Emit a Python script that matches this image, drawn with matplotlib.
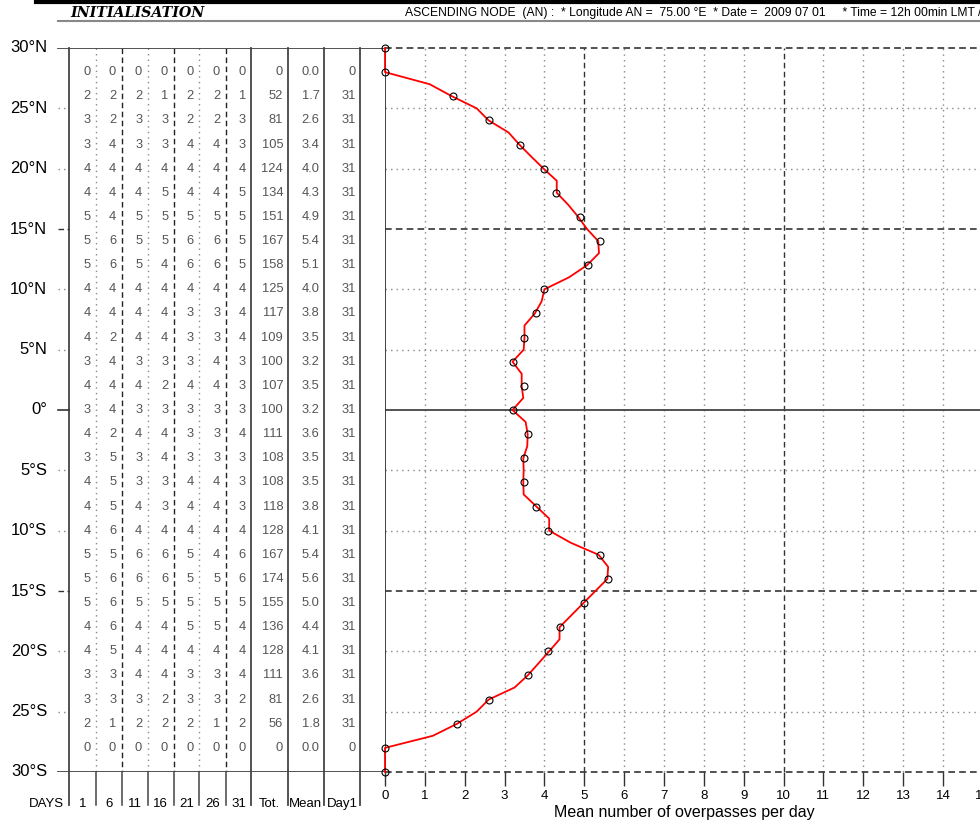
import matplotlib
matplotlib.use("Agg")
import matplotlib.pyplot as plt
from matplotlib.lines import Line2D

plt.rcParams['font.family'] = ['Liberation Sans', 'DejaVu Sans']

# table rows: latitudes 28N .. 28S, step 2
row_lats = list(range(28, -29, -2))
d01 = [0, 2, 3, 3, 4, 4, 5, 5, 5, 4, 4, 4, 3, 4, 3, 4, 3, 4, 4, 4, 5, 5, 5, 4, 4, 3, 3, 2, 0]
d06 = [0, 2, 2, 4, 4, 4, 4, 6, 6, 4, 4, 2, 4, 4, 4, 2, 5, 5, 5, 6, 5, 6, 6, 6, 5, 3, 3, 1, 0]
d11 = [0, 2, 3, 3, 4, 4, 5, 5, 5, 4, 4, 4, 3, 4, 3, 4, 3, 3, 4, 4, 6, 6, 5, 4, 4, 4, 3, 2, 0]
d16 = [0, 1, 3, 3, 4, 5, 5, 5, 4, 4, 4, 4, 3, 2, 3, 4, 4, 3, 3, 4, 6, 6, 5, 4, 4, 4, 2, 2, 0]
d21 = [0, 2, 2, 4, 4, 4, 5, 6, 6, 4, 3, 3, 3, 4, 3, 3, 3, 4, 4, 4, 5, 5, 5, 5, 4, 3, 3, 2, 0]
d26 = [0, 2, 2, 4, 4, 4, 5, 6, 6, 4, 3, 3, 4, 4, 3, 3, 3, 4, 4, 4, 4, 5, 5, 5, 4, 3, 3, 1, 0]
d31 = [0, 1, 3, 3, 4, 5, 5, 5, 5, 4, 4, 4, 3, 3, 3, 4, 3, 3, 3, 4, 6, 6, 5, 4, 4, 4, 2, 2, 0]
total = [0, 52, 81, 105, 124, 134, 151, 167, 158, 125, 117, 109, 100, 107, 100,
         111, 108, 108, 118, 128, 167, 174, 155, 136, 128, 111, 81, 56, 0]
mean = [0.0, 1.7, 2.6, 3.4, 4.0, 4.3, 4.9, 5.4, 5.1, 4.0, 3.8, 3.5, 3.2, 3.5, 3.2,
        3.6, 3.5, 3.5, 3.8, 4.1, 5.4, 5.6, 5.0, 4.4, 4.1, 3.6, 2.6, 1.8, 0.0]
day1 = [0] + [31] * 27 + [0]
col_names = ["1", "6", "11", "16", "21", "26", "31", "Tot.", "Mean", "Day1"]

# 1-degree profile, 30N .. 30S
prof_lats = list(range(30, -31, -1))
prof_vals = [0, 0, 0, 1.12, 1.68, 2.3, 2.6, 3.1, 3.37, 3.67, 3.98, 4.31, 4.31, 4.6, 4.85,
             5.07, 5.35, 5.37, 5.07, 4.62, 4.0, 3.93, 3.76, 3.5, 3.5, 3.48, 3.2, 3.43, 3.43,
             3.47, 3.2, 3.53, 3.58, 3.57, 3.47, 3.48, 3.47, 3.48, 3.8, 4.12, 4.12, 4.66,
             5.36, 5.6, 5.58, 5.28, 4.98, 4.68, 4.38, 4.38, 4.12, 3.85, 3.58, 3.25, 2.6,
             2.3, 1.81, 1.2, 0, 0, 0]

lat_ticks = [30, 25, 20, 15, 10, 5, 0, -5, -10, -15, -20, -25, -30]
lat_labels = ["30°N", "25°N", "20°N", "15°N", "10°N", "5°N", "0°",
              "5°S", "10°S", "15°S", "20°S", "25°S", "30°S"]

W, H = 980, 823
fig = plt.figure(figsize=(9.8, 8.23), dpi=100)
y_bot = (H - 772) / H
y_h = 724 / H
px_deg = 724 / 60.0

dot = (0, (1, 3))
dash = (0, (4, 2.5))

# ---- header
fig.add_artist(Line2D([36 / W, 1], [1 - 1.5 / H] * 2, color='black', lw=3))
fig.add_artist(Line2D([58 / W, 1], [1 - 21 / H] * 2, color='#888888', lw=1.5))
fig.text(70 / W, 1 - 13 / H, "INITIALISATION", family='DejaVu Serif', weight='bold',
         style='italic', fontsize=10.3, va='center', ha='left')
fig.text(405 / W, 1 - 13 / H,
         "ASCENDING NODE  (AN) :  * Longitude AN =  75.00 °E  * Date =  2009 07 01"
         "     * Time = 12h 00min LMT / AN",
         fontsize=8.7, va='center', ha='left')

# ---- table (x in figure pixels)
tab = fig.add_axes([0, y_bot, 385 / W, y_h])
tab.set_xlim(0, 385)
tab.set_ylim(-30, 30)
tab.axis('off')

edges = [69.3, 96, 121.7, 147.7, 173.7, 199.3, 225.7, 251.3, 287.7, 324, 360]
styles = ['-', dot, dash, dot, dash, dot, dash, '-', '-', '-', '-']
y_low = -30 - 33 / px_deg
for x, ls in zip(edges, styles):
    if ls == '-':
        tab.plot([x, x], [30, y_low], color='#444444', lw=1.3, clip_on=False)
    else:
        c = '#222222' if ls == dash else '#888888'
        tab.plot([x, x], [30, -30], color=c, lw=1, ls=ls)
        tab.plot([x, x], [-30, y_low], color='#444444', lw=1.1, clip_on=False)

tab.plot([58, 385], [30, 30], color='#444444', lw=1.3)
tab.plot([58, 385], [-30, -30], color='#444444', lw=1.3)

for lat, lab in zip(lat_ticks, lat_labels):
    tab.text(47, lat, lab, ha='right', va='center', fontsize=12)
    if lat in (15, -15):
        tab.plot([58, 69], [lat, lat], color='#333333', lw=1, ls=dash)
    elif lat == 0:
        tab.plot([58, 69], [lat, lat], color='#333333', lw=1.2)
    elif lat not in (30, -30):
        tab.plot([58, 69], [lat, lat], color='#888888', lw=1, ls=dot)

columns = [d01, d06, d11, d16, d21, d26, d31, total, mean, day1]
for j, col in enumerate(columns):
    xr = edges[j + 1] - (5.5 if j < 7 else 4.5)
    for lat, v in zip(row_lats, col):
        s = "%.1f" % v if j == 8 else str(v)
        tab.text(xr, lat, s, ha='right', va='center', fontsize=9.3, color='#555555')

y_lab = -30 - 32 / px_deg
tab.text(64, y_lab, "DAYS", ha='right', va='center', fontsize=9.5)
for j, name in enumerate(col_names):
    tab.text((edges[j] + edges[j + 1]) / 2, y_lab, name, ha='center', va='center',
             fontsize=9.5)

# ---- graph
ax = fig.add_axes([385 / W, y_bot, 15 * 39.85 / W, y_h])
ax.set_xlim(0, 15)
ax.set_ylim(-30, 30)
for s in ax.spines.values():
    s.set_visible(False)

for x in range(1, 16):
    if x % 5 == 0:
        ax.axvline(x, color='#333333', lw=1, ls=dash)
    else:
        ax.axvline(x, color='#888888', lw=1, ls=dot)
for lat in lat_ticks:
    if lat == 0:
        ax.axhline(lat, color='#444444', lw=1.3)
    elif lat % 15 == 0:
        ax.axhline(lat, color='#333333', lw=1.2, ls=dash, clip_on=False)
    else:
        ax.axhline(lat, color='#888888', lw=1, ls=dot)
ax.axvline(0, color='#333333', lw=1.3)

ax.plot(prof_vals, prof_lats, color='red', lw=1.3, zorder=4, clip_on=False)
ax.plot([0] + mean + [0], [30] + row_lats + [-30], ls='none', marker='o', ms=5,
        mfc='none', mec='black', mew=0.8, zorder=5, clip_on=False)

ax.set_xticks(range(16))
ax.set_yticks([])
ax.tick_params(axis='x', direction='out', length=10, width=1, color='#333333',
               labelsize=9.5, pad=3)
ax.text(7.5, -30 - 40 / px_deg, "Mean number of overpasses per day", ha='center',
        va='center', fontsize=11.5)

fig.savefig("out.png", dpi=100)
